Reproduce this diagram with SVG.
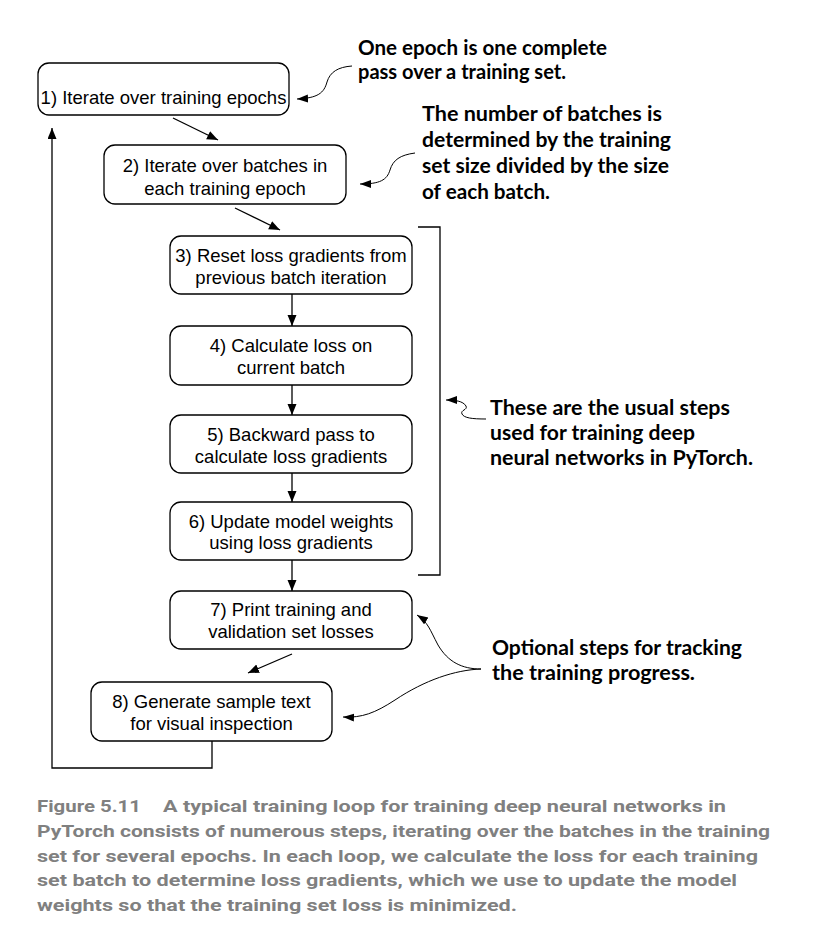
<svg xmlns="http://www.w3.org/2000/svg" width="831" height="943" viewBox="0 0 831 943">
<style>
.box{fill:#fff;stroke:#000;stroke-width:1.3}
.bt{font-family:"Liberation Sans",Arial,sans-serif;font-size:18.5px;fill:#000;text-anchor:middle}
.ann{font-family:Lato,"Open Sans",sans-serif;font-weight:700;font-size:20px;fill:#000}
.cap{font-family:Roboto,"Liberation Sans",sans-serif;font-weight:700;font-size:17px;fill:#808080}
.ln{fill:none;stroke:#000;stroke-width:1.3}
.cl{fill:none;stroke:#000;stroke-width:1}
</style>
<defs>
<marker id="ah" markerUnits="userSpaceOnUse" markerWidth="12" markerHeight="10" refX="11" refY="4.5" orient="auto"><path d="M0,0 L11,4.5 L0,9 z" fill="#000"/></marker>
<marker id="ah2" markerUnits="userSpaceOnUse" markerWidth="12" markerHeight="10" refX="11" refY="4" orient="auto"><path d="M0,0 L11,4 L0,8 z" fill="#000"/></marker>
</defs>
<rect width="831" height="943" fill="#fff"/>

<g id="node1"><rect class="box" x="38" y="63" width="251" height="52" rx="11"/><text class="bt" x="163.5" y="104">1) Iterate over training epochs</text></g>
<g id="node2"><rect class="box" x="104" y="145" width="242" height="59" rx="11"/><text class="bt" x="225" y="172">2) Iterate over batches in</text><text class="bt" x="225" y="195">each training epoch</text></g>
<g id="node3"><rect class="box" x="170" y="236" width="242" height="58" rx="11"/><text class="bt" x="291" y="262">3) Reset loss gradients from</text><text class="bt" x="291" y="284">previous batch iteration</text></g>
<g id="node4"><rect class="box" x="170" y="326" width="242" height="59" rx="11"/><text class="bt" x="291" y="352">4) Calculate loss on</text><text class="bt" x="291" y="374">current batch</text></g>
<g id="node5"><rect class="box" x="170" y="415" width="242" height="58" rx="11"/><text class="bt" x="291" y="441">5) Backward pass to</text><text class="bt" x="291" y="463">calculate loss gradients</text></g>
<g id="node6"><rect class="box" x="170" y="502" width="242" height="58" rx="11"/><text class="bt" x="291" y="528">6) Update model weights</text><text class="bt" x="291" y="549">using loss gradients</text></g>
<g id="node7"><rect class="box" x="170" y="591" width="242" height="58" rx="11"/><text class="bt" x="291" y="616">7) Print training and</text><text class="bt" x="291" y="638">validation set losses</text></g>
<g id="node8"><rect class="box" x="91" y="682" width="241" height="59" rx="11"/><text class="bt" x="211.5" y="708">8) Generate sample text</text><text class="bt" x="211.5" y="730">for visual inspection</text></g>

<g id="connectors">
<line class="ln" x1="173" y1="118" x2="218" y2="140" marker-end="url(#ah)"/>
<line class="ln" x1="235" y1="208" x2="280" y2="230" marker-end="url(#ah)"/>
<line class="ln" x1="292" y1="294" x2="292" y2="326" marker-end="url(#ah)"/>
<line class="ln" x1="292" y1="385" x2="292" y2="415" marker-end="url(#ah)"/>
<line class="ln" x1="292" y1="473" x2="292" y2="502" marker-end="url(#ah)"/>
<line class="ln" x1="292" y1="560" x2="292" y2="591" marker-end="url(#ah)"/>
<line class="ln" x1="292" y1="654" x2="248" y2="673" marker-end="url(#ah)"/>
<polyline class="ln" points="212,741 212,768 52,768 52,128" marker-end="url(#ah)"/>
<polyline class="ln" points="418,227 440,227 440,575 418,575"/>
<path class="cl" d="M352,66 C338,67 330,72 327,82 C324,93 318,98 297,99" marker-end="url(#ah2)"/>
<path class="cl" d="M415,153 C400,155 393,160 390,170 C387,180 380,184 360,184" marker-end="url(#ah2)"/>
<path class="cl" d="M486,419 C472,419 464,418 462,414 C460,410 468,410 466,406 C463,401 455,400 446,400" marker-end="url(#ah2)"/>
<path class="cl" d="M481,669 C462,669 448,662 438,645 C430,630 428,622 417,615" marker-end="url(#ah2)"/>
<path class="cl" d="M481,669 C455,670 425,680 395,700 C375,713 362,718 343,717" marker-end="url(#ah2)"/>
</g>

<g id="annotations">
<text class="ann" x="358" y="55" textLength="249" lengthAdjust="spacingAndGlyphs">One epoch is one complete</text>
<text class="ann" x="358" y="79" textLength="208" lengthAdjust="spacingAndGlyphs">pass over a training set.</text>
<text class="ann" x="422" y="121" textLength="240" lengthAdjust="spacingAndGlyphs">The number of batches is</text>
<text class="ann" x="422" y="147" textLength="249" lengthAdjust="spacingAndGlyphs">determined by the training</text>
<text class="ann" x="422" y="173" textLength="247" lengthAdjust="spacingAndGlyphs">set size divided by the size</text>
<text class="ann" x="422" y="199" textLength="128" lengthAdjust="spacingAndGlyphs">of each batch.</text>
<text class="ann" x="490" y="415" textLength="240" lengthAdjust="spacingAndGlyphs">These are the usual steps</text>
<text class="ann" x="490" y="440" textLength="205" lengthAdjust="spacingAndGlyphs">used for training deep</text>
<text class="ann" x="490" y="465" textLength="263" lengthAdjust="spacingAndGlyphs">neural networks in PyTorch.</text>
<text class="ann" x="492" y="655" textLength="250" lengthAdjust="spacingAndGlyphs">Optional steps for tracking</text>
<text class="ann" x="492" y="680" textLength="203" lengthAdjust="spacingAndGlyphs">the training progress.</text>
</g>

<g id="caption">
<text class="cap" x="37" y="812" textLength="104" lengthAdjust="spacingAndGlyphs">Figure 5.11</text>
<text class="cap" x="163" y="812" textLength="563" lengthAdjust="spacingAndGlyphs">A typical training loop for training deep neural networks in</text>
<text class="cap" x="37" y="837" textLength="733" lengthAdjust="spacingAndGlyphs">PyTorch consists of numerous steps, iterating over the batches in the training</text>
<text class="cap" x="37" y="862" textLength="721" lengthAdjust="spacingAndGlyphs">set for several epochs. In each loop, we calculate the loss for each training</text>
<text class="cap" x="37" y="886" textLength="700" lengthAdjust="spacingAndGlyphs">set batch to determine loss gradients, which we use to update the model</text>
<text class="cap" x="37" y="911" textLength="480" lengthAdjust="spacingAndGlyphs">weights so that the training set loss is minimized.</text>
</g>
</svg>
